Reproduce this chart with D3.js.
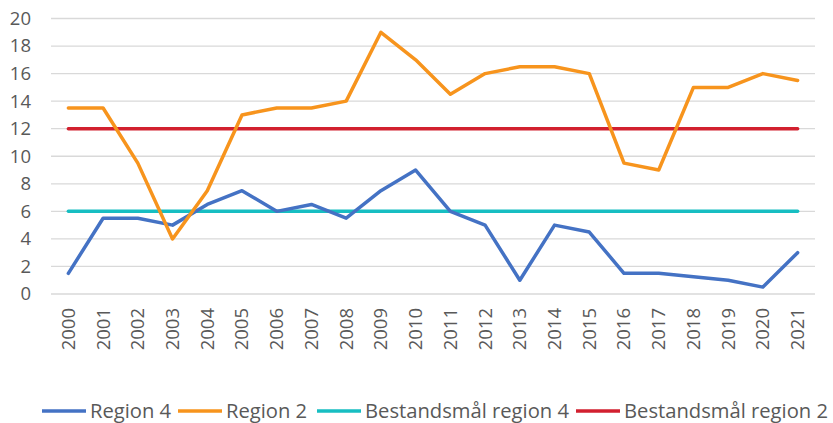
<!DOCTYPE html>
<html><head><meta charset="utf-8">
<script src="https://cdn.jsdelivr.net/npm/d3@7"></script>
<style>body{margin:0;background:#fff;} svg{display:block;font-family:"Open Sans",sans-serif;}</style>
</head><body><svg id="c" width="833" height="423"></svg>
<script>
const years = ["2000","2001","2002","2003","2004","2005","2006","2007","2008","2009","2010","2011","2012","2013","2014","2015","2016","2017","2018","2019","2020","2021"];
const region4 = [1.5,5.5,5.5,5,6.5,7.5,6,6.5,5.5,7.5,9,6,5,1,5,4.5,1.5,1.5,1.25,1,0.5,3];
const region2 = [13.5,13.5,9.5,4,7.5,13,13.5,13.5,14,19,17,14.5,16,16.5,16.5,16,9.5,9,15,15,16,15.5];
const target4 = years.map(() => 6);
const target2 = years.map(() => 12);
const yTicks = [0,2,4,6,8,10,12,14,16,18,20];
const seriesNames = ["Region 4","Region 2","Bestandsmål region 4","Bestandsmål region 2"];
const colors = ["#4472C4","#F7941D","#17BEC2","#D2202F"];
const seriesData = [region4, region2, target4, target2];

const svg = d3.select("#c");
const x = d3.scaleBand().domain(years).range([51, 815]);
const y = d3.scaleLinear().domain([0,20]).range([294, 18.5]);

const g = svg.append("g");
g.selectAll("line.grid").data(yTicks).enter().append("line")
  .attr("x1", 51).attr("x2", 815)
  .attr("y1", d => y(d)).attr("y2", d => y(d))
  .attr("stroke", "#D9D9D9").attr("stroke-width", 1.3);

const yAxis = d3.axisLeft(y).tickValues(yTicks).tickSize(0).tickPadding(0);
const ya = svg.append("g").attr("transform", "translate(31,0)").call(yAxis);
ya.select(".domain").remove();
ya.selectAll("text").attr("fill", "#595959").style("font-size", "18.5px").style("font-family", "'Open Sans',sans-serif");

const xAxis = d3.axisBottom(x).tickSize(0).tickPadding(0);
const xa = svg.append("g").attr("transform", "translate(0,308)").call(xAxis);
xa.select(".domain").remove();
xa.selectAll("text")
  .attr("fill", "#595959").style("font-size", "18.5px").style("font-family", "'Open Sans',sans-serif")
  .attr("transform", "rotate(-90)")
  .attr("text-anchor", "end")
  .attr("x", 0).attr("y", 0).attr("dy", "0.35em");

const line = d3.line().x((d,i) => x(years[i]) + x.bandwidth()/2).y(d => y(d));
[2,3,0,1].forEach(k => {
  svg.append("path").datum(seriesData[k])
    .attr("d", line).attr("fill", "none")
    .attr("stroke", colors[k]).attr("stroke-width", 3.5)
    .attr("stroke-linejoin", "round").attr("stroke-linecap", "round");
});

const legX = [42, 178, 317, 576];
const leg = svg.append("g");
seriesNames.forEach((n, i) => {
  leg.append("line").attr("x1", legX[i]).attr("x2", legX[i] + 44)
    .attr("y1", 411).attr("y2", 411)
    .attr("stroke", colors[i]).attr("stroke-width", 3.5);
  leg.append("text").attr("x", legX[i] + 48).attr("y", 411).attr("dy", "0.35em")
    .attr("fill", "#595959").style("font-size", "20.2px").text(n);
});
</script></body></html>
